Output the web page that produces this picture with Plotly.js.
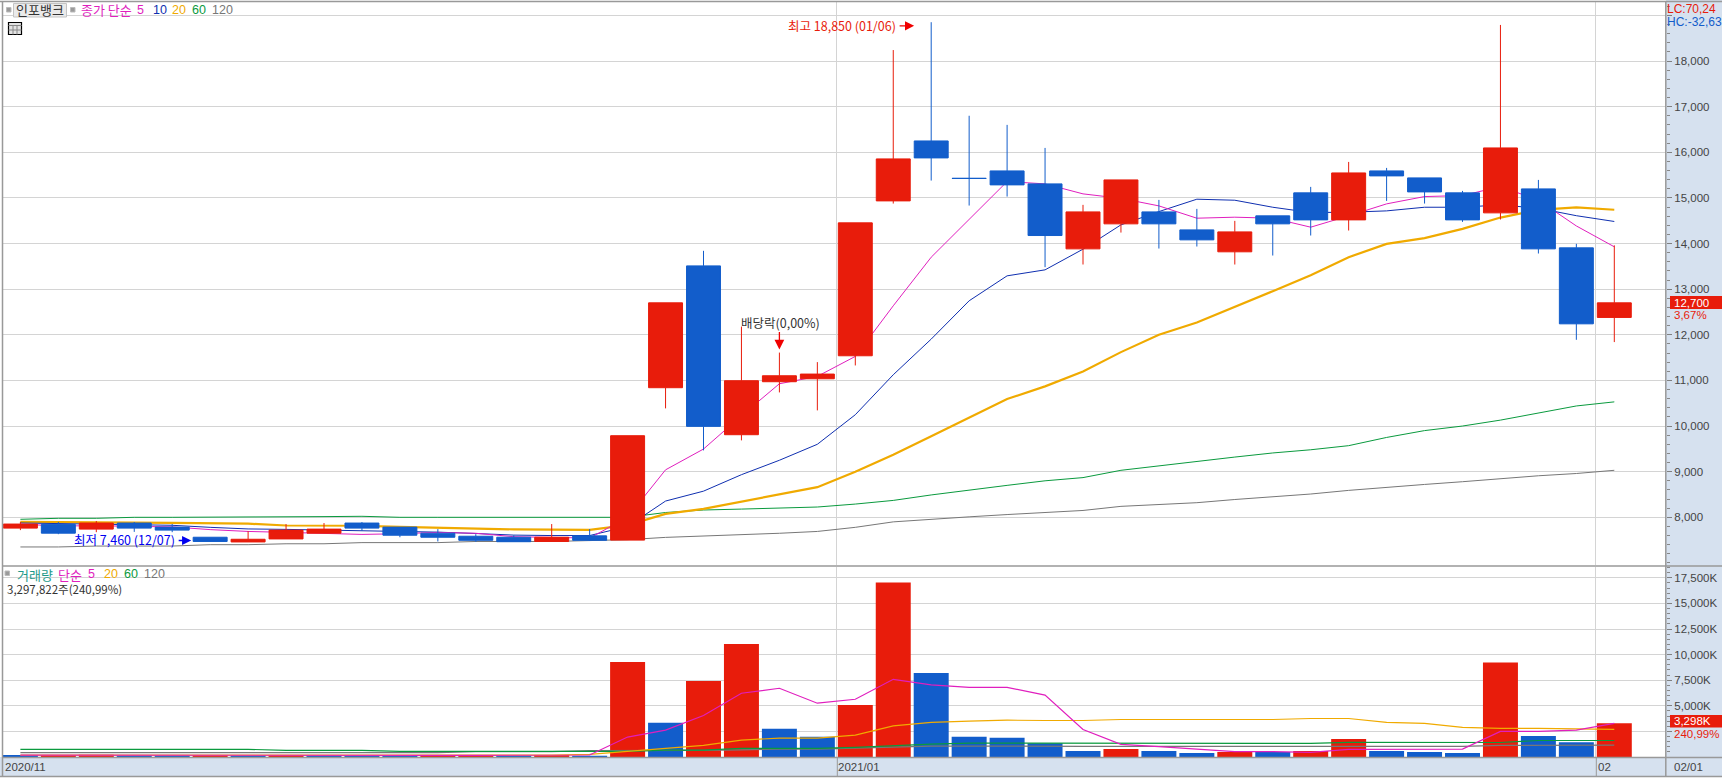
<!DOCTYPE html>
<html><head><meta charset="utf-8">
<script src="https://cdn.plot.ly/plotly-3.0.1.min.js"></script>
<style>html,body{margin:0;padding:0;background:#fff;overflow:hidden}#c{width:1722px;height:779px}</style>
</head><body><div id="c"></div>
<script>
const openP  = [7763,7844,7741,7874,7785,7563,7460,7526,7652,7874,7785,7652,7585,7563,7470,7593,7500,10840,13510,9810,10971,11036,11540,14934,16248,15431,15591,15307,13883,14431,14693,14299,13818,14606,15110,14518,15591,15438,15110,14672,15197,13905,12380];
const closeP = [7852,7652,7874,7763,7719,7470,7519,7719,7741,7763,7607,7563,7496,7465,7563,7496,9788,12700,9993,10993,11102,11139,14453,15854,15876,15425,15285,14175,14693,15394,14431,14080,14255,14431,14518,15547,15482,15131,14518,16095,13883,12240,12700];
const highP  = [7900,7896,7919,7896,7852,7563,7696,7852,7874,7896,7785,7741,7630,7607,7852,7741,9788,12700,13840,12180,11610,11401,14453,18240,18850,16800,16600,16095,14847,15394,14956,14759,14496,14606,15241,15788,15657,15438,15153,18790,15394,13993,13960];
const lowP   = [7719,7630,7674,7681,7674,7460,7460,7526,7652,7704,7563,7470,7460,7465,7470,7480,7500,10387,9467,9686,10737,10343,11328,14876,15380,14832,15029,13482,13540,14240,13890,13934,13540,13737,14175,14285,14934,14876,14474,14526,13781,11890,11840];
const ma5P   = [7850,7810,7815,7810,7790,7730,7690,7670,7640,7625,7640,7670,7650,7575,7560,7545,8000,9040,9496,10226,10927,11088,11526,12635,13700,14533,15358,15307,15088,14990,14825,14555,14577,14555,14358,14606,14869,15029,15051,15248,14950,14385,13928];
const ma10P  = [7875,7860,7845,7840,7825,7780,7745,7735,7720,7710,7690,7675,7645,7610,7600,7600,7800,8356,8573,8934,9250,9600,10248,11124,11905,12745,13292,13423,13876,14409,14700,14971,14949,14795,14679,14686,14715,14795,14795,14847,14772,14610,14483];
const ma20P  = [7900,7900,7895,7885,7880,7875,7860,7820,7815,7815,7790,7770,7760,7735,7730,7725,7830,8075,8185,8345,8510,8660,9000,9372,9774,10175,10591,10869,11197,11620,12000,12270,12605,12956,13307,13700,13993,14117,14321,14569,14737,14790,14740];
const ma60P  = [7956,7978,7978,8000,8000,8000,8000,8000,8015,8022,8000,8000,8000,8000,8000,8000,8000,8105,8160,8180,8200,8225,8290,8370,8490,8600,8700,8800,8870,9030,9130,9220,9320,9410,9480,9570,9750,9900,10000,10130,10280,10440,10530];
const ma120P = [7350,7350,7370,7370,7370,7400,7400,7420,7420,7445,7445,7445,7470,7470,7470,7490,7510,7560,7585,7610,7650,7690,7780,7900,7960,8010,8060,8110,8150,8240,8280,8320,8390,8450,8510,8590,8660,8720,8780,8850,8910,8960,9030];

const volume = [190,200,210,180,160,190,160,190,170,150,130,150,170,140,190,130,9272,3340,7424,11023,2756,1978,5090,17053,8202,1978,1880,1350,584,778,584,389,486,486,584,1750,584,486,389,9240,2040,1447,3298];
const volUp  = [0,1,1,0,0,1,0,1,0,0,0,1,1,0,1,0,1,0,1,1,0,0,1,1,0,0,0,0,0,1,0,0,1,0,1,1,0,0,0,1,0,0,1];
const ma5V   = [180,185,190,190,190,190,190,190,190,180,170,165,160,155,150,195,1945,2626,4053,6225,6711,5252,5641,7586,7035,6808,6808,6040,2690,1232,1005,746,519,519,454,746,746,746,778,2496,2500,2630,3290];
const ma20V  = [190,190,190,190,190,185,185,185,185,185,185,180,180,180,180,259,551,778,1135,1653,1848,1848,2140,3047,3372,3501,3599,3566,3566,3663,3663,3663,3663,3663,3760,3760,3372,3274,2885,2788,2795,2730,2700];
const ma60V  = [745,745,745,745,745,745,745,648,648,648,551,551,551,551,551,551,551,680,680,843,843,843,940,1135,1264,1361,1361,1329,1329,1329,1329,1329,1329,1329,1329,1426,1426,1426,1426,1415,1610,1610,1610];
const ma120V = [421,421,421,421,421,421,421,421,421,421,421,421,530,530,530,616,616,616,650,700,778,778,875,973,1070,1070,1037,1037,1037,1037,1037,1037,1037,1037,1037,1037,1037,1037,1037,1135,1135,1135,1151];

const priceTicks = [8000,9000,10000,11000,12000,13000,14000,15000,16000,17000,18000,19000];
const priceLabels = ['8,000','9,000','10,000','11,000','12,000','13,000','14,000','15,000','16,000','17,000','18,000',''];
const volTicks = [0,2500,5000,7500,10000,12500,15000,17500];
const volLabels = ['','','5,000K','7,500K','10,000K','12,500K','15,000K','17,500K'];
const monthLines = [21.5,41.5];
const monthLabels = ['2020/11','2021/01','02'];
const monthLabelPos = [-0.43,21.52,41.54];

const RED='#E81C0B',BLUE='#125DCB',PINK='#E01FBE',NAVY='#0F2FB0',ORG='#F0AA00',GRN='#0A9A3E',GRY='#777777',BAND='#D6E1EF',BRD='#999999',GRID='#D4D4D4',TXT='#444444';
const FK='"Noto Sans CJK KR",sans-serif', FN='"Liberation Sans",sans-serif';
const W=1722,H=779;
const px=v=>v/W, py=v=>1-v/H;
const idx=openP.map((_,i)=>i);

const xRange=[(3-20.4)/37.95,(1665.5-20.4)/37.95];
const pRange=[8000-(565-517.3)/45.63*1000,18000+(61-2)/45.63*1000];
const vRange=[0,(757-567)/25.6*2500];

function ln(x,y,xa,ya,c,w){return {type:'scatter',mode:'lines',x,y,xaxis:xa,yaxis:ya,line:{color:c,width:w},hoverinfo:'skip',showlegend:false};}
const traces=[
  ln(idx,ma120P,'x','y',GRY,1),
  ln(idx,ma60P,'x','y',GRN,1),
  ln(idx,ma20P,'x','y',ORG,2.2),
  ln(idx,ma10P,'x','y',NAVY,1),
  ln(idx,ma5P,'x','y',PINK,1),
  {type:'candlestick',x:idx,open:openP,high:highP,low:lowP,close:closeP,xaxis:'x',yaxis:'y3',
   increasing:{line:{color:RED,width:1},fillcolor:RED},decreasing:{line:{color:BLUE,width:1},fillcolor:BLUE},
   whiskerwidth:0,hoverinfo:'skip',showlegend:false},
  {type:'bar',x:idx,y:volume,xaxis:'x2',yaxis:'y2',marker:{color:volUp.map(u=>u?RED:BLUE),line:{width:0}},hoverinfo:'skip',showlegend:false},
  ln(idx,ma120V,'x2','y2',GRY,1.2),
  ln(idx,ma60V,'x2','y2',GRN,1.2),
  ln(idx,ma20V,'x2','y2',ORG,1.2),
  ln(idx,ma5V,'x2','y2',PINK,1.2)
];

function rect(x0,y0,x1,y1,fill,line,lw,layer){return {type:'rect',xref:'paper',yref:'paper',x0:px(x0),x1:px(x1),y0:py(y0),y1:py(y1),fillcolor:fill,line:{color:line||fill,width:lw===undefined?0:lw},layer:layer||'above'};}
function seg(x0,y0,x1,y1,c,w,layer){return {type:'line',xref:'paper',yref:'paper',x0:px(x0),x1:px(x1),y0:py(y0),y1:py(y1),line:{color:c,width:w||1},layer:layer||'above'};}
const shapes=[
  rect(1666,0,1722,776,BAND,null,0,'below'),
  rect(0,757,1722,776,BAND,null,0,'below'),
  seg(1665.8,2,1665.8,776,BRD,1.5),
  seg(3,757.5,1722,757.5,BRD,1.5),
  seg(0,776.5,1722,776.5,BRD,1.5),
  seg(1596.3,757,1596.3,776,BRD,1),
  seg(837.3,757,837.3,776,BRD,1),
  seg(2.5,1,2.5,776,BRD,1.5),
  seg(0,1.5,1722,1.5,BRD,1.5),
  seg(3,566,1722,566,BRD,1.5),
  rect(6.5,7.5,11,12,'#9a9a9a','#bbb',1),
  rect(13.5,3.5,66.5,17,'#EAEAEA','#C4C4C4',1),
  rect(70.5,7.5,75,12,'#9a9a9a','#bbb',1),
  rect(8.5,22.5,21.5,34.5,'#E2E2E2','#000',1.2),
  seg(8.5,25.5,21.5,25.5,'#888',1),seg(8.5,30,21.5,30,'#888',1),seg(13,25.5,13,34.5,'#888',1),seg(17,25.5,17,34.5,'#888',1),
  rect(5,571,9.5,575.5,'#9a9a9a','#bbb',1),
  rect(1670,296,1722,309,RED),
  rect(1670,715,1722,727.5,RED)
];
function txt(x,y,text,color,size,font,anchor){return {xref:'paper',yref:'paper',x:px(x),y:py(y),text,showarrow:false,xanchor:anchor||'left',yanchor:'middle',font:{family:font||FK,size:size||12,color},align:'left',borderpad:0,borderwidth:0};}
const annotations=[
  txt(15.5,10,'인포뱅크','#333',13),
  txt(81,10,'종가 단순',PINK,13),
  txt(136.5,10,'5',PINK,12.5,FN),
  txt(152.5,10,'10',NAVY,12.5,FN),
  txt(171.5,10,'20',ORG,12.5,FN),
  txt(191.5,10,'60',GRN,12.5,FN),
  txt(212,10,'120',GRY,12.5,FN),
  txt(1667,8.5,'LC:70,24',RED,12,FN),
  txt(1667,21.5,'HC:-32,63',BLUE,12,FN),
  txt(1674,302.5,'12,700','#fff',11.5,FN),
  txt(1674,315,'3,67%',RED,11.5,FN),
  txt(1674,721,'3,298K','#fff',11.5,FN),
  txt(1674,733.5,'240,99%',RED,11.5,FN),
  txt(1674,766.5,'02/01',TXT,11.5,FN),
  txt(16.5,574,'거래량','#1E9A8A',13),
  txt(58,574,'단순',PINK,13),
  txt(88,574,'5',PINK,12.5,FN),
  txt(104,574,'20',ORG,12.5,FN),
  txt(124,574,'60',GRN,12.5,FN),
  txt(144,574,'120',GRY,12.5,FN),
  txt(6.5,589,'3,297,822주(240,99%)','#333',11.5),
  txt(788,25.5,'최고 18,850 (01/06)',RED,12.5),
  txt(73.5,539.5,'최저 7,460 (12/07)','#0000F0',12.5),
  txt(740.5,323,'배당락(0,00%)','#333',12.5),
  {xref:'x',yref:'y',x:23.55,y:18770,ax:-16,ay:0,text:'',showarrow:true,arrowhead:2,arrowsize:1.4,arrowwidth:1.3,arrowcolor:'#F00000'},
  {xref:'x',yref:'y',x:4.5,y:7492,ax:-14,ay:0,text:'',showarrow:true,arrowhead:2,arrowsize:1.4,arrowwidth:1.3,arrowcolor:'#0000F0'},
  {xref:'x',yref:'y',x:20,y:11680,ax:0,ay:-19,text:'',showarrow:true,arrowhead:2,arrowsize:1.5,arrowwidth:1.3,arrowcolor:'#F00000'}
].concat(monthLabels.map((t,i)=>({xref:'x',yref:'paper',x:monthLabelPos[i],y:py(766.5),text:t,showarrow:false,xanchor:'left',yanchor:'middle',font:{family:FN,size:11.5,color:TXT},borderpad:0})));

const xBase={showline:false,zeroline:false,showticklabels:false,ticks:'',tickmode:'array',tickvals:monthLines,showgrid:true,gridcolor:GRID,gridwidth:1,range:xRange,domain:[px(3),px(1665.5)],fixedrange:true};
const yTicks={ticks:'outside',ticklen:5.5,tickcolor:'#808080',tickwidth:1,showgrid:true,gridcolor:GRID,gridwidth:1,zeroline:false,showline:false,tickfont:{family:FN,size:11.5,color:TXT},fixedrange:true};
const layout={
  width:W,height:H,margin:{l:0,r:0,t:0,b:0,pad:0},paper_bgcolor:'#fff',plot_bgcolor:'rgba(0,0,0,0)',showlegend:false,
  bargap:0.078,boxgap:0.105,boxgroupgap:0,
  xaxis:Object.assign({},xBase,{anchor:'y',rangeslider:{visible:false},type:'linear'}),
  xaxis2:Object.assign({},xBase,{anchor:'y2',type:'linear'}),
  yaxis:Object.assign({domain:[py(565),py(2)],range:pRange,side:'right',anchor:'x',tickmode:'array',tickvals:priceTicks,ticktext:priceLabels,minor:{ticks:'outside',ticklen:3,tickcolor:'#888',tick0:0,dtick:200,showgrid:false}},yTicks),
  yaxis3:{domain:[py(565),py(2)],range:pRange,overlaying:'y',side:'right',anchor:'x',showgrid:false,showticklabels:false,ticks:'',zeroline:false,showline:false,fixedrange:true},
  yaxis2:Object.assign({domain:[py(757),py(567)],range:vRange,side:'right',anchor:'x2',tickmode:'array',tickvals:volTicks,ticktext:volLabels,minor:{ticks:'outside',ticklen:3,tickcolor:'#888',tick0:0,dtick:500,showgrid:false}},yTicks),
  shapes,annotations
};
Plotly.newPlot('c',traces,layout,{staticPlot:true,displayModeBar:false});
</script></body></html>
